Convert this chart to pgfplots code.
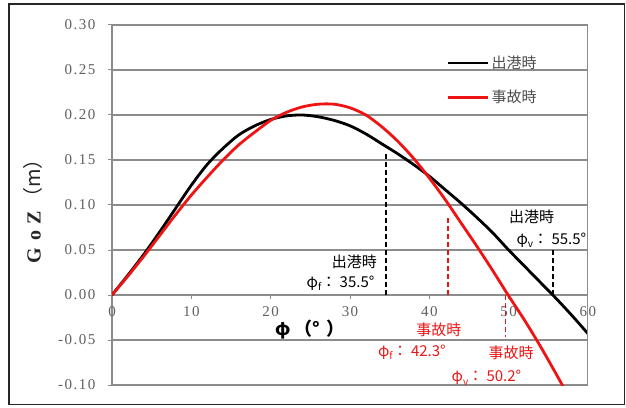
\documentclass[border=0pt]{standalone}
\usepackage{fontspec}
\setmainfont{Liberation Serif}
\newfontfamily\cjk{Noto Sans CJK JP}
\newfontfamily\tickfont[LetterSpace=10]{Liberation Serif}
\usepackage{pgfplots}
\pgfplotsset{compat=1.18}
\definecolor{gridgray}{RGB}{140,140,140}
\definecolor{ticktext}{RGB}{95,95,95}
\definecolor{myred}{RGB}{238,20,20}
\newcommand{\sub}[1]{\raisebox{-0.4ex}{\fontsize{10}{10}\selectfont #1}}

\pgfplotstableread{
phi gz
0 0
2 0.022
4 0.045
6 0.070
8 0.096
10 0.122
12 0.145
14 0.163
16 0.178
18 0.188
20 0.195
22 0.199
24 0.200
26 0.198
28 0.194
30 0.188
32 0.179
34 0.168
36 0.157
38 0.145
40 0.132
42 0.117
44 0.102
46 0.086
48 0.069
50 0.050
52 0.032
54 0.014
56 -0.004
58 -0.023
60 -0.043
}\departure

\pgfplotstableread{
phi gz
0 0
2 0.021
4 0.043
6 0.066
8 0.089
10 0.111
12 0.131
14 0.150
16 0.167
18 0.181
20 0.194
22 0.203
24 0.209
26 0.212
28 0.212
30 0.208
32 0.200
34 0.187
36 0.171
38 0.152
40 0.130
42 0.106
44 0.080
46 0.054
48 0.027
50 -0.001
52 -0.028
54 -0.057
56 -0.088
58 -0.120
}\accident

\begin{document}
\begin{tikzpicture}
\useasboundingbox (0pt,0pt) rectangle (626pt,407pt);
\draw[line width=1.3pt, black!85] (9pt,2.5pt) rectangle (624.5pt,403pt);
\begin{axis}[
  at={(112pt,22pt)}, anchor=south west,
  scale only axis, width=476pt, height=360pt,
  xmin=0, xmax=60, ymin=-0.10, ymax=0.30,
  axis x line=middle, axis y line=left,
  axis line style={-, gridgray, line width=1.2pt},
  xtick={0,10,20,30,40,50,60},
  ytick={-0.1,-0.05,0,0.05,0.1,0.15,0.2,0.25,0.3},
  ymajorgrids, grid style={gridgray, line width=1.3pt},
  tick align=outside, major tick length=4pt,
  tick style={gridgray, line width=1pt},
  hide obscured x ticks=false, hide obscured y ticks=false,
  yticklabel style={/pgf/number format/.cd, fixed, fixed zerofill, precision=2, assume math mode=true, /tikz/.cd,
    font=\tickfont\fontsize{15}{15}\selectfont, text=ticktext, xshift=-9pt},
  xticklabel style={/pgf/number format/assume math mode=true,
    font=\tickfont\fontsize{15}{15}\selectfont, text=ticktext, yshift=-4pt},
  xlabel={\cjk φ （°\,\,）},
  every axis x label/.style={at={(axis description cs:0.416,0.155)}, anchor=center, font=\fontsize{18}{18}\selectfont\bfseries},
  ylabel={\textbf{G\,\,o\,\,Z}\,{\cjk （m）}},
  every axis y label/.style={at={(axis description cs:-0.166,0.497)}, rotate=90, anchor=center, font=\fontsize{20}{20}\selectfont, text=black!85},
  legend style={draw=none, fill=none, at={(axis description cs:0.703,0.92)}, anchor=north west,
    font=\cjk\fontsize{15}{15}\selectfont, text=black!70, row sep=16pt, inner sep=0pt},
  legend cell align=left,
  legend image code/.code={\draw[#1] (0pt,0pt) -- (40pt,0pt);},
]
\addplot[black, line width=2.8pt, smooth] table[x=phi, y=gz] {\departure};
\addlegendentry{出港時}
\addplot[myred, line width=2.8pt, smooth] table[x=phi, y=gz] {\accident};
\addlegendentry{事故時}

\addplot[forget plot, black, line width=2pt, dash pattern=on 5pt off 3pt] coordinates {(34.6,0) (34.6,0.158)};
\addplot[forget plot, black, line width=2pt, dash pattern=on 5pt off 3pt] coordinates {(55.6,0) (55.6,0.05)};
\addplot[forget plot, myred, line width=1.8pt, dash pattern=on 5pt off 3pt] coordinates {(42.4,0) (42.4,0.087)};
\addplot[forget plot, myred, line width=1.8pt, dash pattern=on 5pt off 3pt] coordinates {(49.6,0) (49.6,-0.047)};

\node[anchor=east, inner sep=0pt, font=\cjk\fontsize{15}{15}\selectfont] at (axis cs:33.4,0.0367) {出港時};
\node[anchor=east, inner sep=0pt, font=\cjk\fontsize{15}{15}\selectfont] at (axis cs:33.1,0.013) {φ\sub{f}： 35.5°};
\node[anchor=center, inner sep=0pt, font=\cjk\fontsize{15}{15}\selectfont] at (axis cs:52.9,0.0867) {出港時};
\node[anchor=east, inner sep=0pt, font=\cjk\fontsize{15}{15}\selectfont] at (axis cs:59.8,0.061) {φ\sub{v}： 55.5°};
\node[anchor=center, inner sep=0pt, text=myred, font=\cjk\fontsize{15}{15}\selectfont] at (axis cs:41.2,-0.039) {事故時};
\node[anchor=center, inner sep=0pt, text=myred, font=\cjk\fontsize{15}{15}\selectfont] at (axis cs:37.8,-0.064) {φ\sub{f}： 42.3°};
\node[anchor=center, inner sep=0pt, text=myred, font=\cjk\fontsize{15}{15}\selectfont] at (axis cs:50.3,-0.064) {事故時};
\node[anchor=center, inner sep=0pt, text=myred, font=\cjk\fontsize{15}{15}\selectfont] at (axis cs:47.2,-0.092) {φ\sub{v}： 50.2°};
\draw[gridgray, line width=1.2pt] (rel axis cs:1,0) -- (rel axis cs:1,1);
\end{axis}
\end{tikzpicture}
\end{document}
